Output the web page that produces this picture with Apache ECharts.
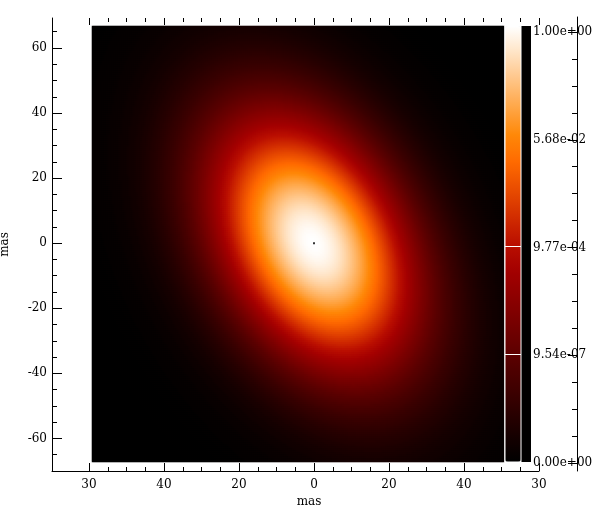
<!DOCTYPE html>
<html><head><meta charset="utf-8">
<script src="https://cdn.jsdelivr.net/npm/echarts@6/dist/echarts.min.js"></script>
<style>html,body{margin:0;padding:0;background:#fff}#c{width:600px;height:511px}</style>
</head><body><div id="c"></div>
<script>
// ---- Gaussian model component (units: mas) ----
const compCenter = [0, 0];           // RA offset, Dec offset
const compFWHM = [22, 13];           // major, minor FWHM
const compPA = [22];                 // position angle, deg east of north
const compPeak = [1.0];
const displayPower = [0.1];          // colour index = I ^ 0.1 (as the colour bar labels show)
const imageExtentX = [59.1, -50.9];  // left edge, right edge
const imageExtentY = [-67.5, 66.7];  // bottom edge, top edge

// ---- axes / tick labels ----
const xTickValues = [60, 40, 20, 0, -20, -40, -60];
const xTickLabels = ['30', '40', '20', '0', '20', '40', '30'];
const yTickValues = [60, 40, 20, 0, -20, -40, -60];
const yTickLabels = ['60', '40', '20', '0', '-20', '-40', '-60'];
const yMinorValues = [65, 55, 50, 45, 35, 30, 25, 15, 10, 5, -5, -10, -15, -25, -30, -35, -45, -50, -55, -65];
const cbLevels = [0, 0.25, 0.5, 0.75, 1];
const cbLabels = ['0.00e+00', '9.54e-07', '9.77e-04', '5.68e-02', '1.00e+00'];
const cbLineLevels = [0.25, 0.5];
const colorStops = ['#000000','#170000','#2f0000','#460000','#5d0000','#750000','#8c0000','#a30000',
  '#ba0f00','#d22d00','#e94c00','#ff6a00','#ff8808','#ffa647','#ffc485','#ffe3c4','#ffffff'];

const FONT = 'DejaVu Serif';
const CELL_PX = 2;
const chart = echarts.init(document.getElementById('c'), null, {renderer: 'canvas'});

const sgA = compFWHM[0] / (2 * Math.sqrt(2 * Math.LN2));
const sgB = compFWHM[1] / (2 * Math.sqrt(2 * Math.LN2));
const pa = compPA[0] * Math.PI / 180;

function buildCells(nx, ny) {
  const xCats = [], yCats = [], cells = [];
  const dx = (imageExtentX[1] - imageExtentX[0]) / nx;
  const dy = (imageExtentY[1] - imageExtentY[0]) / ny;
  for (let i = 0; i < nx; i++) xCats.push(i);
  for (let j = 0; j < ny; j++) yCats.push(j);
  for (let j = 0; j < ny; j++) {
    const y = imageExtentY[0] + (j + 0.5) * dy - compCenter[1];
    for (let i = 0; i < nx; i++) {
      const x = imageExtentX[0] + (i + 0.5) * dx - compCenter[0];
      const a = x * Math.sin(pa) + y * Math.cos(pa);
      const b = x * Math.cos(pa) - y * Math.sin(pa);
      const I = compPeak[0] * Math.exp(-0.5 * (a * a / (sgA * sgA) + b * b / (sgB * sgB)));
      cells.push([i, j, Math.pow(I, displayPower[0])]);
    }
  }
  return {xCats, yCats, cells};
}

const lbl = {color: '#000', fontFamily: FONT, fontSize: 12};
const blackLine = {color: '#000', width: 1};
const Y_MIN = -70, Y_MAX = 69.2;

function g(o) { return Object.assign({outerBoundsMode: 'none', containLabel: false}, o); }

function buildOption(hRect, img) {
  return {
    animation: false,
    backgroundColor: '#fff',
    grid: [
      g({left: 52, right: 61, top: 18, bottom: 40}),                 // 0 frame lines + y axis
      g({left: 89, right: 61, top: 18, bottom: 40}),                 // 1 x axes
      g({left: hRect.left, top: hRect.top, width: hRect.width, height: hRect.height}), // 2 image
      g({left: 521, top: 26, width: 10, height: 436, show: true, backgroundColor: '#000', borderWidth: 0}), // 3
      g({left: 505, top: 26, width: 16, height: 436, show: true, backgroundColor: 'transparent', borderColor: '#fff', borderWidth: 1, z: 10}), // 4
      g({left: 500, right: 23, top: 17, bottom: 40}),                // 5 colour bar axis line
      g({left: 500, right: 23, top: 32, bottom: 48})                 // 6 colour bar ticks
    ],
    xAxis: [
      {gridIndex: 0, type: 'value', min: -60, max: 70, inverse: true,
        axisLine: {show: true, onZero: false, lineStyle: blackLine}, axisTick: {show: false}, axisLabel: {show: false}, splitLine: {show: false}},
      {gridIndex: 1, type: 'value', min: -60, max: 60, interval: 20, inverse: true, position: 'bottom',
        axisLine: {show: false, onZero: false}, splitLine: {show: false},
        axisTick: {show: true, inside: true, length: 8, lineStyle: blackLine},
        minorTick: {show: true, splitNumber: 4, length: 4, lineStyle: blackLine},
        axisLabel: Object.assign({margin: 8, formatter: v => xTickLabels[xTickValues.indexOf(v)]}, lbl),
        name: 'mas', nameLocation: 'middle', nameGap: 20,
        nameTextStyle: Object.assign({padding: [0, 10, 0, 0]}, lbl)},
      {gridIndex: 1, type: 'value', min: -60, max: 60, interval: 20, inverse: true, position: 'top',
        axisLine: {show: false, onZero: false}, splitLine: {show: false}, axisLabel: {show: false},
        axisTick: {show: true, inside: true, length: 7, lineStyle: blackLine},
        minorTick: {show: true, splitNumber: 4, length: 4, lineStyle: blackLine}},
      {gridIndex: 2, type: 'category', data: img.xCats, show: false},
      {gridIndex: 3, type: 'value', show: false},
      {gridIndex: 4, type: 'value', min: 0, max: 1, show: false},
      {gridIndex: 5, type: 'value', min: 0, max: 1, show: false},
      {gridIndex: 6, type: 'value', min: 0, max: 1, show: false}
    ],
    yAxis: [
      {gridIndex: 0, type: 'value', min: Y_MIN, max: Y_MAX, position: 'left',
        axisLine: {show: true, onZero: false, lineStyle: blackLine}, splitLine: {show: false},
        axisTick: {show: true, inside: true, length: 10, customValues: yTickValues, lineStyle: blackLine},
        axisLabel: Object.assign({margin: 5, customValues: yTickValues,
          formatter: v => yTickLabels[yTickValues.indexOf(v)]}, lbl),
        name: 'mas', nameLocation: 'middle', nameGap: 41, nameTextStyle: lbl},
      {gridIndex: 0, type: 'value', min: Y_MIN, max: Y_MAX, position: 'left',
        axisLine: {show: false, onZero: false}, splitLine: {show: false}, axisLabel: {show: false},
        axisTick: {show: true, inside: true, length: 5, customValues: yMinorValues, lineStyle: blackLine}},
      {gridIndex: 1, type: 'value', min: Y_MIN, max: Y_MAX, show: false},
      {gridIndex: 2, type: 'category', data: img.yCats, show: false},
      {gridIndex: 3, type: 'value', show: false},
      {gridIndex: 4, type: 'value', min: 0, max: 1 + 4 / 432, show: false},
      {gridIndex: 5, type: 'value', min: 0, max: 1, position: 'right',
        axisLine: {show: true, onZero: false, lineStyle: blackLine}, axisTick: {show: false}, axisLabel: {show: false}, splitLine: {show: false}},
      {gridIndex: 6, type: 'value', min: 0, max: 1, interval: 0.25, position: 'right',
        axisLine: {show: false, onZero: false}, splitLine: {show: false},
        axisTick: {show: true, inside: true, length: 9, lineStyle: blackLine},
        minorTick: {show: true, splitNumber: 4, length: 5, lineStyle: blackLine},
        axisLabel: Object.assign({inside: true, margin: 44, align: 'left',
          formatter: v => cbLabels[cbLevels.indexOf(v)]}, lbl)}
    ],
    visualMap: {
      type: 'continuous', min: 0, max: 1, dimension: 2, seriesIndex: 0,
      calculable: false, text: null, padding: 0, left: 505, top: 26,
      itemWidth: 16, itemHeight: 436, inRange: {color: colorStops}, hoverLink: false
    },
    series: [
      {type: 'heatmap', xAxisIndex: 3, yAxisIndex: 3, data: img.cells, progressive: 0,
        silent: true, itemStyle: {borderWidth: 0}, emphasis: {disabled: true}},
      {type: 'scatter', xAxisIndex: 1, yAxisIndex: 2, data: [[compCenter[0], compCenter[1]]],
        symbol: 'rect', symbolSize: 2, itemStyle: {color: '#000'}, silent: true, z: 5},
      {type: 'line', xAxisIndex: 5, yAxisIndex: 5, data: [], z: 12, silent: true,
        markLine: {symbol: 'none', silent: true, animation: false, label: {show: false},
          lineStyle: {color: '#fff', width: 1, type: 'solid'},
          data: cbLineLevels.map(v => ({yAxis: v}))}}
    ]
  };
}

chart.setOption(buildOption({left: 0, top: 0, width: 10, height: 10}, {xCats: [0], yCats: [0], cells: []}));
const xl = chart.convertToPixel({xAxisIndex: 1}, imageExtentX[0]);
const xr = chart.convertToPixel({xAxisIndex: 1}, imageExtentX[1]);
const yt = chart.convertToPixel({yAxisIndex: 0}, imageExtentY[1]);
const yb = chart.convertToPixel({yAxisIndex: 0}, imageExtentY[0]);
const L = Math.round(xl), T = Math.round(yt);
const nx = Math.round((xr - xl) / CELL_PX), ny = Math.round((yb - yt) / CELL_PX);
const img = buildCells(nx, ny);
chart.setOption(buildOption({left: L, top: T, width: nx * CELL_PX, height: ny * CELL_PX}, img), true);
</script></body></html>
